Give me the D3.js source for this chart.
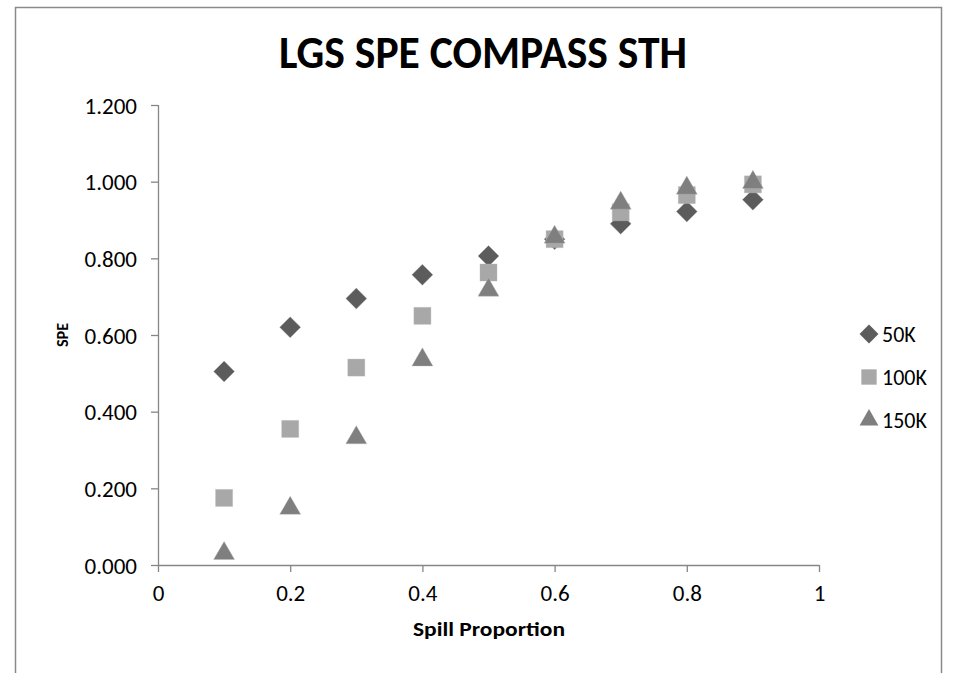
<!doctype html>
<html lang="en">
<head>
<meta charset="utf-8">
<title>LGS SPE COMPASS STH</title>
<script src="https://d3js.org/d3.v7.min.js"></script>
<style>
  body { margin: 0; background: #fff; }
  svg text { font-family: Carlito, Lato, "Open Sans", sans-serif; fill: #000; }
</style>
</head>
<body>
<svg id="chart" width="958" height="673"></svg>
<script>
// values
var spill = [0.1, 0.2, 0.3, 0.4, 0.5, 0.6, 0.7, 0.8, 0.9];
var spe50k  = [0.505, 0.620, 0.695, 0.757, 0.806, 0.850, 0.890, 0.922, 0.953];
var spe100k = [0.175, 0.355, 0.515, 0.650, 0.763, 0.850, 0.920, 0.965, 0.993];
var spe150k = [0.030, 0.148, 0.332, 0.535, 0.717, 0.855, 0.944, 0.983, 0.998];
var seriesNames = ["50K", "100K", "150K"];
var xTicks = [0, 0.2, 0.4, 0.6, 0.8, 1];
var yTicks = [0, 0.2, 0.4, 0.6, 0.8, 1.0, 1.2];

var svg = d3.select("#chart");

// outer frame (bottom edge cut off)
svg.append("path")
  .attr("d", "M15.5,673 L15.5,7.5 L941.5,7.5 L941.5,673")
  .attr("fill", "none").attr("stroke", "#8a8a8a").attr("stroke-width", 1.5);

var x = d3.scaleLinear().domain([0, 1]).range([158, 819]);
var y = d3.scaleLinear().domain([0, 1.2]).range([565, 105]);

var axisColor = "#868686";

var yAxis = svg.append("g").attr("transform", "translate(158,0)")
  .call(d3.axisLeft(y).tickValues(yTicks).tickSize(7).tickPadding(12).tickFormat(d3.format(".3f")));
var xAxis = svg.append("g").attr("transform", "translate(0,565)")
  .call(d3.axisBottom(x).tickValues(xTicks).tickSize(7).tickPadding(12).tickFormat(function(d) { return d3.format("")(d); }));

[xAxis, yAxis].forEach(function(a) {
  a.select(".domain").attr("stroke", axisColor).attr("stroke-width", 1.3);
  a.selectAll(".tick line").attr("stroke", axisColor).attr("stroke-width", 1.3);
  a.selectAll(".tick text").attr("font-size", 23).attr("fill", "#000")
    .style("font-family", "Carlito, Lato, 'Open Sans', sans-serif");
});
yAxis.select(".domain").attr("d", "M0.5,565 V105");
xAxis.select(".domain").attr("d", "M158,0.5 H819");
yAxis.selectAll(".tick text").attr("dy", "0.35em").attr("x", -21);
xAxis.selectAll(".tick text").attr("dy", "0.75em");

// titles
svg.append("text").attr("x", 483).attr("y", 68).attr("text-anchor", "middle")
  .attr("font-size", 46).attr("font-weight", "bold")
  .attr("textLength", 408).attr("lengthAdjust", "spacingAndGlyphs")
  .text("LGS SPE COMPASS STH");
svg.append("text").attr("x", 489).attr("y", 636).attr("text-anchor", "middle")
  .attr("font-size", 20).attr("font-weight", "bold")
  .attr("textLength", 152).attr("lengthAdjust", "spacingAndGlyphs")
  .text("Spill Proportion");
svg.append("text").attr("transform", "translate(68,335) rotate(-90)").attr("text-anchor", "middle")
  .attr("font-size", 16).attr("font-weight", "bold")
  .attr("textLength", 24).attr("lengthAdjust", "spacingAndGlyphs")
  .text("SPE");

// marker shapes
var shapes = [
  { sym: d3.symbol().type(d3.symbolSquare).size(220), rot: 45, fill: "#5c5c5c" },
  { sym: d3.symbol().type(d3.symbolSquare).size(290), rot: 0, fill: "#a8a8a8" },
  { sym: d3.symbol().type(d3.symbolTriangle).size(190), rot: 0, fill: "#7f7f7f" }
];
var allSeries = [spe50k, spe100k, spe150k];

allSeries.forEach(function(vals, s) {
  svg.append("g").selectAll("path")
    .data(vals).enter().append("path")
    .attr("d", shapes[s].sym())
    .attr("transform", function(d, i) {
      return "translate(" + x(spill[i]) + "," + y(d) + ") rotate(" + shapes[s].rot + ")";
    })
    .attr("fill", shapes[s].fill)
    .attr("stroke", "#b5b5b5").attr("stroke-width", 0.6).attr("stroke-opacity", 0.6);
});

// legend
var leg = svg.append("g").attr("transform", "translate(869,334)");
seriesNames.forEach(function(name, s) {
  var g = leg.append("g").attr("transform", "translate(0," + (s * 43) + ")");
  g.append("path").attr("d", shapes[s].sym())
    .attr("transform", "rotate(" + shapes[s].rot + ") scale(0.9)")
    .attr("fill", shapes[s].fill);
  g.append("text").attr("x", 13).attr("y", 0).attr("dy", "0.35em")
    .attr("font-size", 22).text(name);
});
</script>
</body>
</html>
